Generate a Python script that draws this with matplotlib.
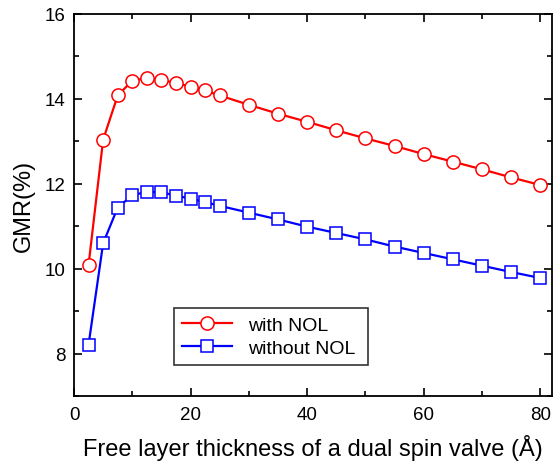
import matplotlib
matplotlib.use("Agg")
import matplotlib.pyplot as plt
from matplotlib.ticker import MultipleLocator

plt.rcParams['font.family'] = ['Liberation Sans', 'DejaVu Sans']

thickness = [2.5, 5, 7.5, 10, 12.5, 15, 17.5, 20, 22.5, 25, 30, 35, 40, 45, 50, 55, 60, 65, 70, 75, 80]
gmr_with_nol = [10.09, 13.04, 14.08, 14.43, 14.49, 14.45, 14.37, 14.29, 14.20, 14.08, 13.86, 13.65,
                13.46, 13.26, 13.07, 12.89, 12.70, 12.52, 12.34, 12.15, 11.97]
gmr_without_nol = [8.21, 10.60, 11.44, 11.73, 11.81, 11.80, 11.72, 11.65, 11.57, 11.48, 11.32, 11.16,
                   10.99, 10.84, 10.69, 10.52, 10.37, 10.22, 10.07, 9.92, 9.78]

fig = plt.figure(figsize=(5.56, 4.64), dpi=100)
ax = fig.add_axes([74/556, 1-397/464, 478/556, 382/464])

ax.plot(thickness, gmr_with_nol, color='#ff0000', lw=1.6, marker='o', ms=9.5,
        mfc='white', mec='#ff0000', mew=1.1, label='with NOL')
ax.plot(thickness, gmr_without_nol, color='#0000ff', lw=1.6, marker='s', ms=8,
        mfc='white', mec='#0000ff', mew=1.1, label='without NOL')

ax.set_xlim(0, 82)
ax.set_ylim(7, 16)
ax.xaxis.set_major_locator(MultipleLocator(20))
ax.xaxis.set_minor_locator(MultipleLocator(10))
ax.yaxis.set_major_locator(MultipleLocator(2))
ax.yaxis.set_minor_locator(MultipleLocator(1))
ax.tick_params(which='both', direction='in', top=True, right=True, labelsize=13.5)
ax.tick_params(axis='x', which='major', pad=7)
ax.tick_params(axis='y', which='major', pad=6)
ax.tick_params(which='major', length=6, width=1.2)
ax.tick_params(which='minor', length=3.5, width=1.2)
for s in ax.spines.values():
    s.set_linewidth(1.3)

ax.set_xlabel('Free layer thickness of a dual spin valve (Å)', fontsize=17, labelpad=8)
ax.set_ylabel('GMR(%)', fontsize=17, labelpad=7)

leg = ax.legend(loc='lower left', bbox_to_anchor=(0.209, 0.081, 0.406, 0.16), mode='expand',
                fontsize=14, frameon=True, fancybox=False, edgecolor='black',
                handlelength=2.6, borderaxespad=0, labelspacing=0.3)
leg.get_frame().set_linewidth(1.2)

fig.savefig('out.png', dpi=100)
